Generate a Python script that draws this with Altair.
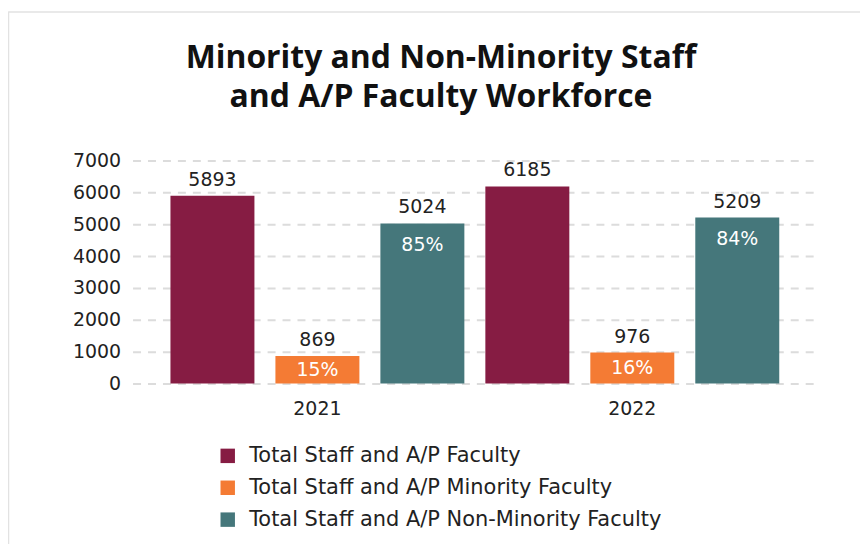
import altair as alt
import pandas as pd

years = ["2021", "2021", "2021", "2022", "2022", "2022"]
series = ["Total Staff and A/P Faculty", "Total Staff and A/P Minority Faculty", "Total Staff and A/P Non-Minority Faculty"] * 2
values = [5893, 869, 5024, 6185, 976, 5209]
percents = ["", "15%", "85%", "", "16%", "84%"]

order = ["Total Staff and A/P Faculty", "Total Staff and A/P Minority Faculty", "Total Staff and A/P Non-Minority Faculty"]
colors = ["#861C43", "#F47B34", "#45777B"]

df = pd.DataFrame({"year": years, "series": series, "value": values, "pct": percents})
frame_df = pd.DataFrame({"k": [0]})

FONT = "DejaVu Sans"
TFONT = "Open Sans"

x = alt.X("year:N", title=None,
          scale=alt.Scale(paddingInner=0, paddingOuter=0.087),
          axis=alt.Axis(labelAngle=0, domain=False, ticks=False, labelFontSize=19,
                        labelPadding=16, labelColor="#222", labelFont=FONT, grid=False))
xo = alt.XOffset("series:N", sort=order, scale=alt.Scale(paddingInner=0.2, paddingOuter=0.1))
yscale = alt.Scale(domain=[0, 7000])
yaxis = alt.Axis(values=[0, 1000, 2000, 3000, 4000, 5000, 6000, 7000], format="d",
                 domain=False, ticks=False,
                 labelFontSize=19, labelPadding=12, labelColor="#222", labelFont=FONT,
                 grid=True, gridDash=[8, 7], gridColor="#dcdcdc", gridWidth=2)
y = alt.Y("value:Q", title=None, scale=yscale, axis=yaxis)

bars = alt.Chart(df).mark_bar().encode(
    x=x, xOffset=xo, y=y,
    color=alt.Color("series:N", sort=order, scale=alt.Scale(domain=order, range=colors),
                    legend=alt.Legend(title=None, orient="none", legendX=85, legendY=286,
                                      symbolType="square", symbolSize=210, symbolStrokeWidth=0,
                                      labelFontSize=21, labelFont=FONT, labelColor="#222",
                                      rowPadding=10, labelOffset=11, labelLimit=600)),
)

top_labels = alt.Chart(df).mark_text(baseline="middle", dy=-16, fontSize=19, font=FONT, color="#222").encode(
    x=x, xOffset=xo, y=y, text="value:Q"
)

# minority share: centred in its short bar
pct_mid = alt.Chart(df).transform_filter(
    alt.datum.series == order[1]
).transform_calculate(mid="datum.value / 2").mark_text(
    baseline="middle", fontSize=19, font=FONT, color="white"
).encode(x=x, xOffset=xo, y=alt.Y("mid:Q", title=None, scale=yscale, axis=yaxis), text="pct:N")

# non-minority share: just below the top of its bar
pct_top = alt.Chart(df).transform_filter(
    alt.datum.series == order[2]
).mark_text(baseline="middle", dy=22, fontSize=19, font=FONT, color="white").encode(
    x=x, xOffset=xo, y=y, text="pct:N"
)

# light card border (top and left edges visible in the reference)
border_top = alt.Chart(frame_df).mark_rule(color="#e2e2e2", strokeWidth=1.5).encode(
    x=alt.value(-124.5), x2=alt.value(740), y=alt.value(-149)
)
border_left = alt.Chart(frame_df).mark_rule(color="#e2e2e2", strokeWidth=1.5).encode(
    x=alt.value(-124.5), y=alt.value(-149.5), y2=alt.value(400)
)

chart = alt.layer(border_top, border_left, bars, top_labels, pct_mid, pct_top).properties(
    width=687, height=224,
    background="white",
    title=alt.TitleParams(["Minority and Non-Minority Staff", "and A/P Faculty Workforce"],
                          fontSize=32, font=TFONT, fontWeight="bold", color="#111",
                          lineHeight=39, offset=-104, dx=-34),
    autosize=alt.AutoSizeParams(type="none"),
    padding={"left": 125, "top": 152, "right": 43, "bottom": 160},
).configure_view(stroke=None)

chart.save("out.html", embed_options={"renderer": "svg", "actions": False})
